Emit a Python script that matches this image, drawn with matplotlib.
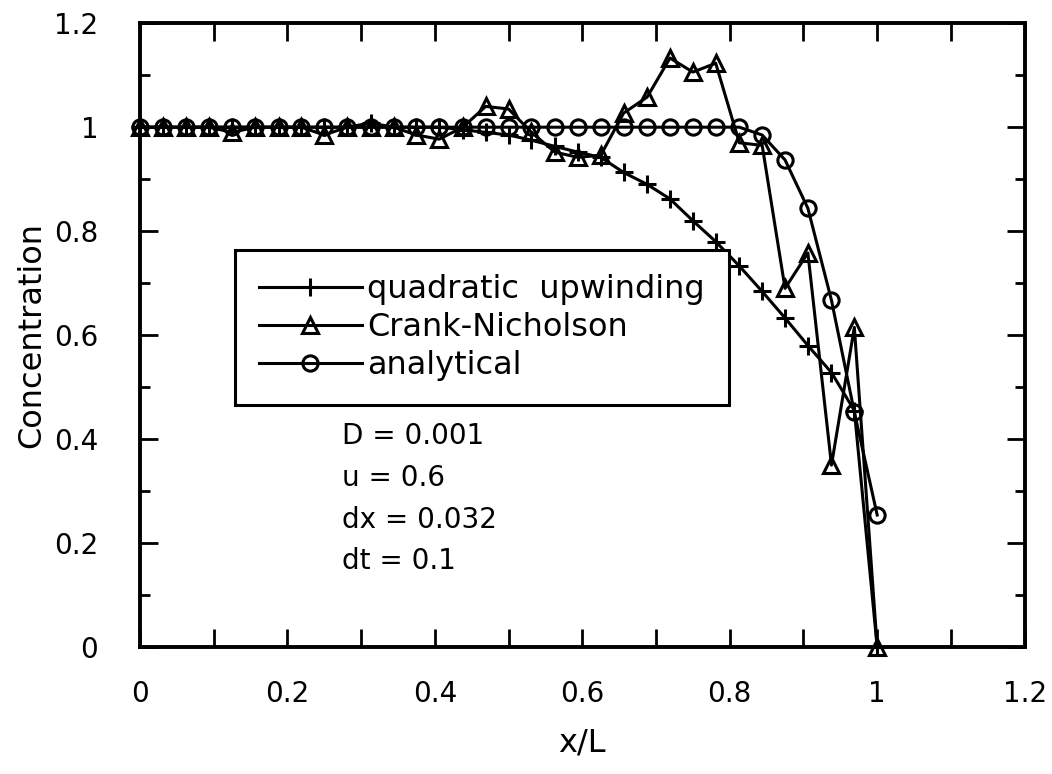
import numpy as np
import matplotlib.pyplot as plt
from matplotlib.ticker import MultipleLocator, FuncFormatter

# grid points x/L (dx ~ 0.032)
x = [0.0, 0.031, 0.063, 0.094, 0.125, 0.156, 0.188, 0.219, 0.25, 0.281,
     0.313, 0.344, 0.375, 0.406, 0.438, 0.469, 0.5, 0.531, 0.563, 0.594,
     0.625, 0.656, 0.688, 0.719, 0.75, 0.781, 0.813, 0.844, 0.875, 0.906,
     0.938, 0.969, 1.0]

# concentration values
upwind = [1.0, 1.0, 1.0, 1.0, 1.0, 1.0, 1.0, 1.0, 1.0, 1.0,
          1.008, 1.0, 1.0, 1.0, 0.995, 0.99, 0.985, 0.975, 0.963, 0.952,
          0.942, 0.913, 0.89, 0.862, 0.82, 0.78, 0.733, 0.684, 0.633, 0.58,
          0.528, 0.455, 0.0]
crank = [1.0, 1.0, 1.0, 1.0, 0.99, 1.0, 1.0, 1.0, 0.985, 1.0,
         1.0, 1.0, 0.985, 0.977, 1.0, 1.04, 1.035, 0.99, 0.952, 0.942,
         0.946, 1.027, 1.058, 1.133, 1.106, 1.123, 0.97, 0.965, 0.69, 0.758,
         0.35, 0.615, 0.0]
analytic = [1.0, 1.0, 1.0, 1.0, 1.0, 1.0, 1.0, 1.0, 1.0, 1.0,
            1.0, 1.0, 1.0, 1.0, 1.0, 1.0, 1.0, 1.0, 1.0, 1.0,
            1.0, 1.0, 1.0, 1.0, 1.0, 1.0, 1.0, 0.985, 0.937, 0.844,
            0.667, 0.452, 0.254]

labels = ['quadratic  upwinding', 'Crank-Nicholson', 'analytical']
params = ['D = 0.001', 'u = 0.6', 'dx = 0.032', 'dt = 0.1']

plt.rcParams['font.family'] = 'DejaVu Sans'

fig = plt.figure(figsize=(10.52, 7.74), dpi=100)
ax = fig.add_axes([0.133, 0.164, 0.841, 0.806])

lw = 2.2
ax.plot(x, upwind, '-', color='black', lw=lw, marker='+', ms=13, mew=2.2,
        label=labels[0], clip_on=False)
ax.plot(x, crank, '-', color='black', lw=lw, marker='^', ms=11, mew=2.2,
        mfc='none', label=labels[1], clip_on=False)
ax.plot(x, analytic, '-', color='black', lw=lw, marker='o', ms=11, mew=2.2,
        mfc='none', label=labels[2], clip_on=False)

ax.set_xlim(0, 1.2)
ax.set_ylim(0, 1.2)
ax.xaxis.set_major_locator(MultipleLocator(0.2))
ax.xaxis.set_minor_locator(MultipleLocator(0.1))
ax.yaxis.set_major_locator(MultipleLocator(0.2))
ax.yaxis.set_minor_locator(MultipleLocator(0.1))
fmt = FuncFormatter(lambda v, p: f'{v:g}')
ax.xaxis.set_major_formatter(fmt)
ax.yaxis.set_major_formatter(fmt)

ax.tick_params(axis='both', which='both', direction='in', top=True, right=True,
               width=2, labelsize=20)
ax.tick_params(axis='x', which='both', length=13, pad=24)
ax.tick_params(axis='y', which='major', length=13, pad=30)
ax.tick_params(axis='y', which='minor', length=7)
for s in ax.spines.values():
    s.set_linewidth(2.8)

ax.set_xlabel('x/L', fontsize=23, labelpad=14)
ax.set_ylabel('Concentration', fontsize=23, labelpad=5)

leg = ax.legend(loc='upper left', bbox_to_anchor=(0.107, 0.636),
                borderaxespad=0, fontsize=23, handlelength=3.25,
                handletextpad=0.15, labelspacing=0.22, borderpad=0.75,
                fancybox=False, framealpha=1, edgecolor='black', numpoints=1)
leg.get_frame().set_linewidth(2.2)

ax.text(0.228, 0.36, '\n'.join(params), transform=ax.transAxes,
        fontsize=20, va='top', ha='left', linespacing=1.62)

fig.savefig('out.png', dpi=100)
